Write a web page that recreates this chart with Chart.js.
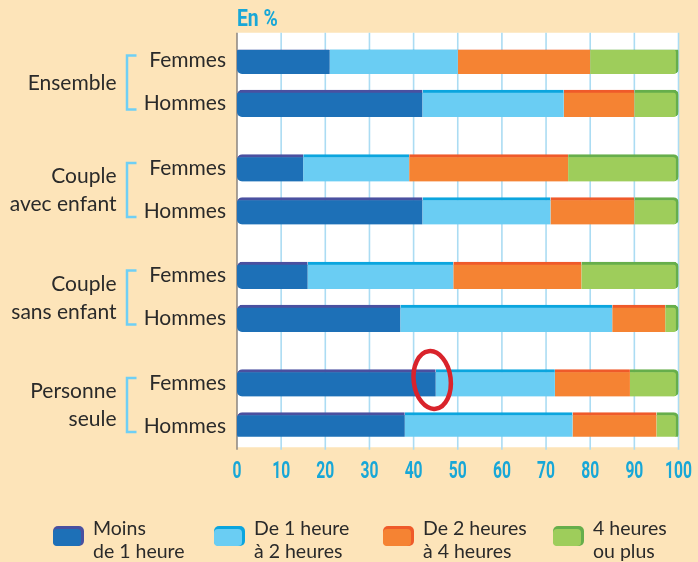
<!DOCTYPE html>
<html><head><meta charset="utf-8">
<script src="https://cdn.jsdelivr.net/npm/chart.js@4.4.1/dist/chart.umd.min.js"></script>
<style>html,body{margin:0;padding:0;background:#fde4b9;}#wrap{width:698px;height:562px;position:relative}</style>
</head><body><div id="wrap"><canvas id="c" width="698" height="562"></canvas></div>
<script>
// ---- data ----
const groups = [["Ensemble"], ["Couple", "avec enfant"], ["Couple", "sans enfant"], ["Personne", "seule"]];
const sexes = ["Femmes", "Hommes"];
// order: Ensemble F, H, Couple avec enfant F, H, Couple sans enfant F, H, Personne seule F, H
const moins1h = [21, 42, 15, 42, 16, 37, 45, 38];
const de1a2h  = [29, 32, 24, 29, 33, 48, 27, 38];
const de2a4h  = [30, 16, 36, 19, 29, 12, 17, 19];
const plus4h  = [20, 10, 25, 10, 22, 3, 11, 5];
const seriesLabels = [["Moins", "de 1 heure"], ["De 1 heure", "à 2 heures"], ["De 2 heures", "à 4 heures"], ["4 heures", "ou plus"]];
const xTickValues = [0, 10, 20, 30, 40, 50, 60, 70, 80, 90, 100];
const axisTitle = "En %";

// ---- styles ----
const fills = ["#1d70b7", "#6acdf3", "#f58333", "#9ecd5b"];
const edges = ["#4a50a0", "#0ba5de", "#ef5a2a", "#66ae4b"];
const CYAN = "#18a7d7";
const TEXT = "#2a2a2a";
const LABEL_FONT = "Lato, 'Noto Sans', sans-serif";
const NUM_FONT = "Roboto, 'Liberation Sans', sans-serif";
const NUM_SCALE = 0.68;

// build category slots (with spacer rows)
const slotLabels = [], slotIndex = [];
groups.forEach((g, gi) => {
  if (gi > 0) { slotLabels.push('', ''); slotIndex.push(null, null); }
  slotLabels.push(sexes[0]); slotIndex.push(gi * 2);
  slotLabels.push(''); slotIndex.push(null);
  slotLabels.push(sexes[1]); slotIndex.push(gi * 2 + 1);
});
const toSlots = arr => slotIndex.map(i => i === null ? null : arr[i]);
const seriesData = [moins1h, de1a2h, de2a4h, plus4h];

const datasets = seriesData.map((arr, k) => ({
  label: seriesLabels[k].join(' '),
  data: toSlots(arr),
  backgroundColor: fills[k],
  borderColor: edges[k],
  borderWidth: k === 3 ? {top: 3, right: 3, bottom: 0, left: 0} : {top: 3, right: 0, bottom: 0, left: 0},
  borderSkipped: false,
  borderRadius: k === 0 ? {topLeft: 5, bottomLeft: 5, topRight: 0, bottomRight: 0}
              : k === 3 ? {topLeft: 0, bottomLeft: 0, topRight: 5, bottomRight: 5} : 0,
  barThickness: 27
}));

function condensedText(ctx, text, x, y, align, sx) {
  ctx.save();
  ctx.translate(x, y);
  ctx.scale(sx, 1);
  ctx.textAlign = align;
  ctx.fillText(text, 0, 0);
  ctx.restore();
}

const decor = {
  id: 'decor',
  beforeDraw(chart) {
    const {ctx, chartArea: a, scales: {x}} = chart;
    ctx.save();
    ctx.fillStyle = '#fde4b9';
    ctx.fillRect(0, 0, chart.width, chart.height);
    const top = a.top - 17, bot = a.bottom + 10.5;
    ctx.fillStyle = '#ffffff';
    ctx.fillRect(a.left, top, a.right - a.left, bot - top);
    ctx.strokeStyle = '#abdcf3';
    ctx.lineWidth = 1.6;
    xTickValues.forEach(v => {
      if (v === 0) return;
      const px = x.getPixelForValue(v);
      ctx.beginPath(); ctx.moveTo(px, top); ctx.lineTo(px, a.bottom + 13); ctx.stroke();
    });
    ctx.strokeStyle = '#8a8580';
    ctx.lineWidth = 1.5;
    const p0 = x.getPixelForValue(0);
    ctx.beginPath(); ctx.moveTo(p0, top); ctx.lineTo(p0, a.bottom + 13); ctx.stroke();
    ctx.restore();
  },
  afterDraw(chart) {
    const {ctx, chartArea: a, scales: {x, y}} = chart;
    ctx.save();
    // axis title + x tick labels (condensed)
    ctx.fillStyle = CYAN;
    ctx.textBaseline = 'alphabetic';
    ctx.font = "bold 23px " + NUM_FONT;
    condensedText(ctx, axisTitle, a.left, 26, 'left', 0.84);
    ctx.font = "bold 23px " + NUM_FONT;
    xTickValues.forEach(v => condensedText(ctx, String(v), x.getPixelForValue(v), 478, 'center', NUM_SCALE));
    // group labels + brackets
    groups.forEach((g, gi) => {
      const fIdx = slotIndex.indexOf(gi * 2), hIdx = slotIndex.indexOf(gi * 2 + 1);
      const yF = y.getPixelForValue(fIdx), yH = y.getPixelForValue(hIdx);
      const mid = (yF + yH) / 2;
      ctx.strokeStyle = '#6fcff5'; ctx.lineWidth = 2.5;
      ctx.beginPath();
      ctx.moveTo(136.5, yF - 5); ctx.lineTo(127, yF - 5); ctx.lineTo(127, yH + 6); ctx.lineTo(136.5, yH + 6);
      ctx.stroke();
      ctx.fillStyle = TEXT;
      ctx.font = "21px " + LABEL_FONT;
      ctx.textAlign = 'right'; ctx.textBaseline = 'middle';
      const lh = 28;
      const y0 = mid - (g.length - 1) * lh / 2;
      g.forEach((t, i) => ctx.fillText(t, 116.5, y0 + i * lh + 1));
    });
    // legend
    const lx = [53, 214, 383, 553];
    seriesLabels.forEach((lab, k) => {
      const bx = lx[k], by = 526;
      ctx.fillStyle = edges[k];
      ctx.beginPath(); ctx.roundRect(bx, by, 31, 20, 5); ctx.fill();
      ctx.fillStyle = fills[k];
      ctx.beginPath(); ctx.roundRect(bx, by + 3, 28, 17, 4); ctx.fill();
      ctx.fillStyle = TEXT;
      ctx.font = "19.5px " + LABEL_FONT;
      ctx.textAlign = 'left'; ctx.textBaseline = 'alphabetic';
      ctx.fillText(lab[0], bx + 40, 534.5);
      ctx.fillText(lab[1], bx + 40, 557.5);
    });
    // red hand-drawn circle around the highlighted value
    const hi = slotIndex.indexOf(6);
    const cx = x.getPixelForValue(moins1h[6]) - 3.5;
    const cy = y.getPixelForValue(hi) - 3;
    ctx.strokeStyle = '#d9232b'; ctx.lineWidth = 4.5;
    ctx.beginPath(); ctx.ellipse(cx, cy, 18.5, 29, -0.12, 0, Math.PI * 2); ctx.stroke();
    ctx.restore();
  }
};

new Chart(document.getElementById('c'), {
  type: 'bar',
  data: {labels: slotLabels, datasets},
  options: {
    indexAxis: 'y',
    responsive: false,
    devicePixelRatio: 1,
    animation: false,
    layout: {padding: {top: 49.75, left: 0, right: 19.5, bottom: 85.25}},
    plugins: {legend: {display: false}, tooltip: {enabled: false}},
    scales: {
      x: {
        stacked: true, min: 0, max: 100,
        grid: {display: false, drawTicks: false},
        border: {display: false},
        afterFit(s) { s.height = 40; s.paddingLeft = 0; s.paddingRight = 0; },
        afterBuildTicks(s) { s.ticks = xTickValues.map(v => ({value: v})); },
        ticks: {display: false}
      },
      y: {
        stacked: true,
        grid: {display: false, drawTicks: false},
        border: {display: false},
        afterFit(s) { s.width = 237; s.paddingTop = 0; s.paddingBottom = 0; },
        ticks: {autoSkip: false, color: TEXT, padding: 11, font: {family: LABEL_FONT, size: 21}}
      }
    }
  },
  plugins: [decor]
});
</script></body></html>
